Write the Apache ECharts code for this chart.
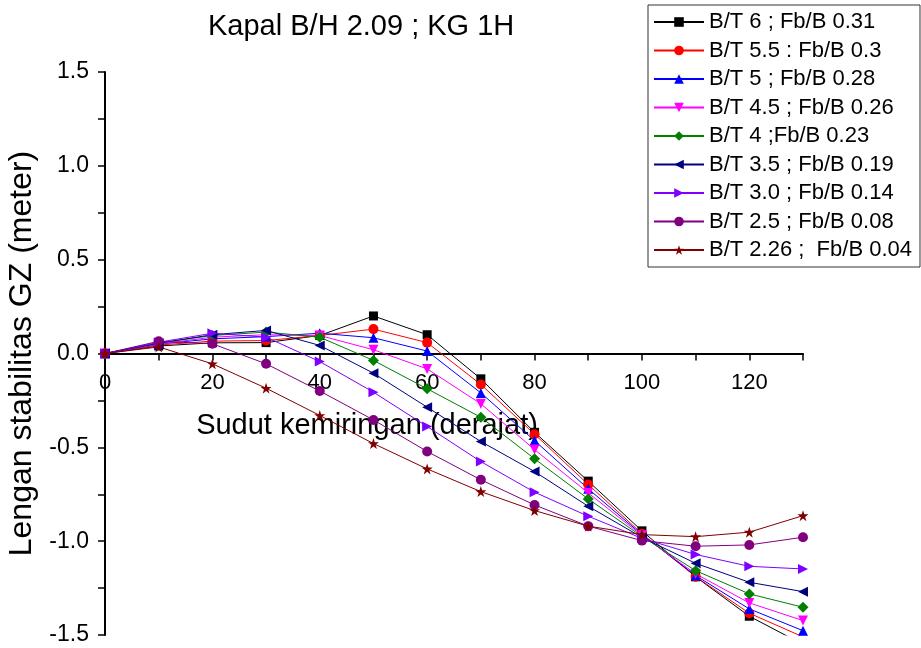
<!DOCTYPE html>
<html>
<head>
<meta charset="utf-8">
<script src="https://cdn.jsdelivr.net/npm/echarts@6/dist/echarts.min.js"></script>
<style>html,body{margin:0;padding:0;background:#fff;}#c{width:921px;height:648px;}</style>
</head>
<body>
<div id="c"></div>
<script>
var angles = [0, 10, 20, 30, 40, 50, 60, 70, 80, 90, 100, 110, 120, 130];
var seriesNames = [
  'B/T 6 ; Fb/B 0.31',
  'B/T 5.5 : Fb/B 0.3',
  'B/T 5 ; Fb/B 0.28',
  'B/T 4.5 ; Fb/B 0.26',
  'B/T 4 ;Fb/B 0.23',
  'B/T 3.5 ; Fb/B 0.19',
  'B/T 3.0 ; Fb/B 0.14',
  'B/T 2.5 ; Fb/B 0.08',
  'B/T 2.26 ;  Fb/B 0.04'
];
var bt60  = [0, 0.040, 0.057, 0.058, 0.096, 0.200, 0.100, -0.135, -0.420, -0.680, -0.945, -1.190, -1.400, -1.550];
var bt55  = [0, 0.045, 0.066, 0.069, 0.096, 0.130, 0.058, -0.165, -0.430, -0.698, -0.960, -1.189, -1.384, -1.510];
var bt50  = [0, 0.050, 0.078, 0.090, 0.108, 0.084, 0.013, -0.210, -0.464, -0.721, -0.965, -1.183, -1.361, -1.477];
var bt45  = [0, 0.050, 0.087, 0.100, 0.096, 0.020, -0.082, -0.268, -0.512, -0.743, -0.970, -1.174, -1.329, -1.423];
var bt40  = [0, 0.055, 0.096, 0.114, 0.087, -0.037, -0.188, -0.340, -0.561, -0.775, -0.975, -1.157, -1.281, -1.352];
var bt35  = [0, 0.055, 0.100, 0.123, 0.043, -0.105, -0.286, -0.469, -0.629, -0.814, -0.980, -1.118, -1.219, -1.269];
var bt30  = [0, 0.060, 0.108, 0.087, -0.043, -0.206, -0.389, -0.576, -0.739, -0.867, -0.985, -1.071, -1.134, -1.148];
var bt25  = [0, 0.065, 0.052, -0.055, -0.200, -0.354, -0.522, -0.673, -0.807, -0.920, -0.997, -1.027, -1.020, -0.979];
var bt226 = [0, 0.035, -0.055, -0.185, -0.330, -0.480, -0.615, -0.736, -0.837, -0.920, -0.965, -0.976, -0.952, -0.864];
var allValues = [bt60, bt55, bt50, bt45, bt40, bt35, bt30, bt25, bt226];

var colors = ['#000000', '#FF0000', '#0000FF', '#FF00FF', '#008000', '#000080', '#8000FF', '#800080', '#800000'];
var star = 'path://M50,0 L61.8,35.1 L98.9,35.1 L68.9,56.7 L80.4,91.9 L50,70.2 L19.6,91.9 L31.1,56.7 L1.1,35.1 L38.2,35.1 Z';
var symbols = ['rect', 'circle', 'triangle', 'triangle', 'diamond', 'triangle', 'triangle', 'circle', star];
var rotates = [0, 0, 0, 180, 0, 90, -90, 0, 0];
var sizes = [9, 10, 10, 10, 11, 10, 10, 10, 11];

var FONT = 'Liberation Sans, Arial, sans-serif';
var series = allValues.map(function (vals, i) {
  return {
    name: seriesNames[i],
    type: 'line',
    data: angles.map(function (a, j) { return [a, vals[j]]; }),
    symbol: symbols[i],
    symbolRotate: rotates[i],
    symbolSize: sizes[i],
    showAllSymbol: true,
    clip: true,
    lineStyle: { color: colors[i], width: 1 },
    itemStyle: { color: colors[i] },
    emphasis: { disabled: true },
    animation: false
  };
});

var GRID_TOP = 72, GRID_BOTTOM = 13, H = 648;
var zeroOffset = -((H - GRID_BOTTOM - GRID_TOP) / 2);

var chart = echarts.init(document.getElementById('c'), null, { renderer: 'canvas' });
chart.setOption({
  animation: false,
  backgroundColor: '#ffffff',
  color: colors,
  title: {
    text: 'Kapal B/H 2.09 ; KG 1H',
    left: 203, top: 7,
    textStyle: { fontFamily: FONT, fontSize: 29, fontWeight: 'normal', color: '#000' }
  },
  legend: {
    orient: 'vertical',
    left: 648, top: 5,
    padding: [6, 8, 6, 5],
    itemWidth: 50, itemHeight: 12, itemGap: 6.5,
    borderColor: '#333', borderWidth: 1,
    textStyle: { fontFamily: FONT, fontSize: 22, color: '#000', lineHeight: 22 },
    data: seriesNames
  },
  grid: { left: 105, right: 118, top: GRID_TOP, bottom: GRID_BOTTOM, containLabel: false, outerBoundsMode: 'none' },
  xAxis: {
    type: 'value', min: 0, max: 130, interval: 10,
    position: 'bottom', offset: zeroOffset,
    name: 'Sudut kemiringan (derajat)',
    nameLocation: 'middle', nameGap: 58,
    nameTextStyle: { fontFamily: FONT, fontSize: 29, color: '#000', padding: [0, 174, 0, 0] },
    axisLine: { onZero: false, lineStyle: { color: '#000', width: 2 } },
    axisTick: { show: true, length: 7, lineStyle: { color: '#000', width: 1.5 } },
    axisLabel: {
      fontFamily: FONT, fontSize: 22, color: '#000', margin: 18,
      formatter: function (v) { return v % 20 === 0 ? String(v) : ''; }
    },
    splitLine: { show: false }
  },
  yAxis: {
    type: 'value', min: -1.5, max: 1.5, interval: 0.25,
    name: 'Lengan stabilitas GZ (meter)',
    nameLocation: 'middle', nameGap: 59, nameRotate: 90,
    nameTextStyle: { fontFamily: FONT, fontSize: 32, color: '#000', padding: [0, 0, 0, 0] },
    axisLine: { show: true, onZero: false, lineStyle: { color: '#000', width: 2 } },
    axisTick: { show: true, length: 7, lineStyle: { color: '#000', width: 1.5 } },
    axisLabel: {
      fontFamily: FONT, fontSize: 23, color: '#000', margin: 16,
      formatter: function (v) {
        var r = Math.round(v * 100) / 100;
        return (Math.abs(r * 2 - Math.round(r * 2)) < 1e-6) ? r.toFixed(1) : '';
      }
    },
    splitLine: { show: false }
  },
  series: series
});
</script>
</body>
</html>
